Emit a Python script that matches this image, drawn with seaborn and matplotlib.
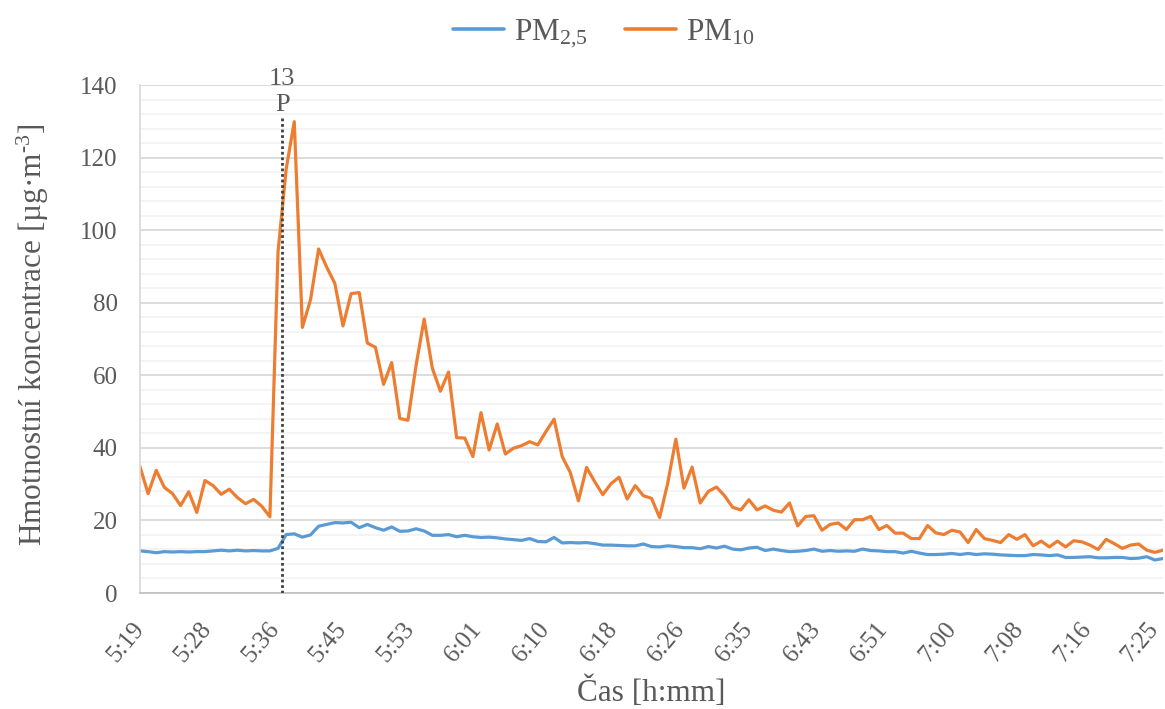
import matplotlib
matplotlib.use("Agg")
import matplotlib.pyplot as plt
import matplotlib.transforms as mtransforms
import numpy as np
import pandas as pd
import seaborn as sns
from matplotlib.ticker import FixedLocator, MultipleLocator

# one reading per minute from 5:19
minutes = list(range(127))

pm10 = [
    34.8, 27.4, 33.8, 29.1, 27.4, 24.1, 27.9, 22.2, 31.0, 29.6,
    27.2, 28.6, 26.3, 24.6, 25.8, 23.9, 21.0, 94.0, 116.8, 129.9,
    73.2, 80.8, 94.8, 89.8, 85.3, 73.6, 82.5, 82.8, 68.9, 67.7,
    57.5, 63.5, 48.1, 47.6, 62.7, 75.5, 62.0, 55.6, 60.9, 42.8,
    42.7, 37.6, 49.7, 39.4, 46.6, 38.3, 39.9, 40.6, 41.7, 40.8,
    44.5, 47.9, 37.6, 33.2, 25.4, 34.6, 30.7, 27.1, 30.1, 31.9,
    25.9, 29.6, 26.8, 26.1, 20.8, 30.3, 42.4, 28.9, 34.7, 24.8,
    28.0, 29.2, 26.8, 23.6, 22.9, 25.7, 22.9, 24.0, 22.8, 22.3,
    24.8, 18.5, 21.1, 21.3, 17.3, 18.9, 19.3, 17.5, 20.2, 20.2,
    21.1, 17.5, 18.6, 16.5, 16.5, 15.0, 15.0, 18.6, 16.6, 16.1,
    17.3, 16.8, 13.9, 17.5, 15.0, 14.5, 13.9, 16.1, 14.8, 16.1,
    13.0, 14.3, 12.7, 14.3, 12.7, 14.4, 14.1, 13.2, 12.0, 14.8,
    13.6, 12.3, 13.2, 13.5, 11.8, 11.2, 11.8,
]

pm25 = [
    11.6, 11.4, 11.1, 11.4, 11.3, 11.4, 11.3, 11.4, 11.4, 11.6,
    11.8, 11.6, 11.8, 11.6, 11.7, 11.6, 11.6, 12.3, 16.1, 16.3,
    15.4, 16.0, 18.4, 18.9, 19.4, 19.3, 19.5, 18.0, 18.9, 18.0,
    17.3, 18.2, 17.0, 17.1, 17.7, 17.1, 15.9, 15.9, 16.1, 15.5,
    15.9, 15.5, 15.3, 15.4, 15.2, 14.9, 14.7, 14.5, 15.0, 14.2,
    14.1, 15.3, 13.8, 13.9, 13.8, 13.9, 13.6, 13.2, 13.2, 13.1,
    13.0, 13.0, 13.5, 12.8, 12.7, 13.0, 12.8, 12.5, 12.5, 12.2,
    12.8, 12.4, 12.9, 12.1, 11.9, 12.4, 12.6, 11.7, 12.1, 11.7,
    11.4, 11.5, 11.7, 12.1, 11.5, 11.7, 11.5, 11.6, 11.5, 12.1,
    11.7, 11.6, 11.4, 11.4, 11.0, 11.5, 11.0, 10.6, 10.6, 10.7,
    10.9, 10.6, 10.9, 10.6, 10.8, 10.7, 10.5, 10.4, 10.3, 10.3,
    10.6, 10.5, 10.3, 10.5, 9.8, 9.8, 9.9, 10.0, 9.7, 9.7,
    9.8, 9.8, 9.5, 9.6, 10.0, 9.1, 9.5,
]

tick_labels = ["5:19", "5:28", "5:36", "5:45", "5:53", "6:01", "6:10", "6:18",
               "6:26", "6:35", "6:43", "6:51", "7:00", "7:08", "7:16", "7:25"]

event_minute = 17.5
event_top = 131
event_label = "13\nP"

series_names = ["PM2,5", "PM10"]
series_labels = ["PM$_{\\mathregular{2{,}5}}$", "PM$_{\\mathregular{10}}$"]
colors = {"PM2,5": "#5B9BD5", "PM10": "#ED7D31"}

df = pd.DataFrame({
    "minute": minutes * 2,
    "value": pm25 + pm10,
    "series": ["PM2,5"] * len(pm25) + ["PM10"] * len(pm10),
})

sns.set_style("white")
plt.rcParams["font.family"] = ["Liberation Serif", "DejaVu Serif"]
plt.rcParams["mathtext.fontset"] = "custom"
plt.rcParams["mathtext.rm"] = "Liberation Serif"
plt.rcParams["mathtext.it"] = "Liberation Serif:italic"
text_col = "#595959"

fig = plt.figure(figsize=(11.65, 7.09), dpi=100)
ax = fig.add_axes([140 / 1165, 1 - 593 / 709, 1023 / 1165, 508 / 709])

ax.set_ylim(0, 140)
ax.yaxis.set_major_locator(MultipleLocator(20))
ax.yaxis.set_minor_locator(MultipleLocator(4))
ax.grid(axis="y", which="minor", color="#F2F2F2", lw=1.2)
ax.grid(axis="y", which="major", color="#D9D9D9", lw=1.3)
ax.set_axisbelow(True)

sns.lineplot(data=df, x="minute", y="value", hue="series", hue_order=series_names,
             palette=colors, lw=2.3, sort=False, ax=ax, legend=False)

ax.plot([event_minute, event_minute], [0, event_top], color="#404040",
        ls=(0, (1, 1)), lw=2.0, zorder=5)
ax.text(event_minute, event_top + 0.5, event_label, ha="center", va="bottom",
        fontsize=19, color=text_col, linespacing=1.2)

step = 500 / 60  # Excel major unit, in minutes
ax.set_xlim(0, 126)
ax.xaxis.set_major_locator(FixedLocator([i * step for i in range(len(tick_labels))]))
ax.xaxis.set_minor_locator(MultipleLocator(step / 5))
ax.set_xticklabels(tick_labels, rotation=50, ha="right", va="center",
                   rotation_mode="anchor")
shift = mtransforms.ScaledTranslation(3 / 100, 0, fig.dpi_scale_trans)
for lab in ax.get_xticklabels():
    lab.set_transform(lab.get_transform() + shift)
ax.tick_params(axis="x", which="major", direction="in", length=6, width=1,
               color="#BFBFBF", pad=23, labelsize=18, labelcolor=text_col)
ax.tick_params(axis="x", which="minor", direction="in", length=3.5, width=1,
               color="#BFBFBF")
ax.tick_params(axis="y", which="both", length=0, pad=16, labelsize=18,
               labelcolor=text_col)

for side in ["top", "right"]:
    ax.spines[side].set_visible(False)
ax.spines["left"].set_color("#D9D9D9")
ax.spines["bottom"].set_color("#BFBFBF")
for side in ["left", "bottom"]:
    ax.spines[side].set_linewidth(1.2)

ax.set_xlabel("Čas [h:mm]", fontsize=22.5, color=text_col)
ax.set_ylabel("Hmotnostní koncentrace [µg·m$^{\\text{-3}}$]", fontsize=22.5,
              color=text_col)
ax.xaxis.set_label_coords(0.5, -0.165)
ax.yaxis.set_label_coords(-0.087, 0.508)

handles = [plt.Line2D([], [], color=colors[s], lw=2.6) for s in series_names]
fig.legend(handles, series_labels, loc="center", bbox_to_anchor=(0.518, 1 - 34 / 709),
           ncol=2, frameon=False, fontsize=22.5, handlelength=1.65, handletextpad=0.3,
           columnspacing=1.2, labelcolor=text_col)

fig.savefig("out.png", dpi=100)
